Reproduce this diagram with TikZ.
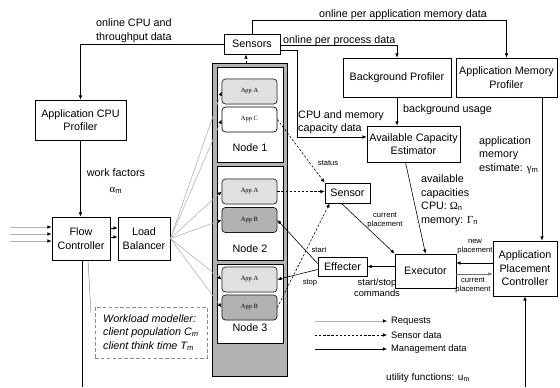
\documentclass[tikz,border=0pt]{standalone}
\usepackage{fontspec}
\setmainfont{Liberation Sans}
\newfontfamily\serfont{Liberation Serif}
\usetikzlibrary{arrows.meta,calc,patterns.meta}

\tikzdeclarepattern{
  name=finegrid, type=uncolored,
  bounding box={(0pt,0pt) and (2pt,2pt)},
  tile size={(2pt,2pt)},
  code={\draw[line width=0.25pt] (0pt,1pt) -- (2pt,1pt) (1pt,0pt) -- (1pt,2pt);}
}

\begin{document}
\begin{tikzpicture}[x=0.03cm, y=-0.03cm,
    font=\fontsize{9.2}{11.5}\selectfont,
    >={Latex[length=3.5pt,width=3pt]},
    box/.style={rectangle, draw=black, line width=0.7pt, fill=white, align=center, inner sep=1pt},
    wbox/.style={rectangle, draw=black!45, densely dashed, fill=white, align=left, font=\fontsize{9.2}{11.5}\selectfont\itshape},
    nodebox/.style={rectangle, draw=black, line width=0.8pt, fill=white, minimum width=1.98cm},
    app/.style={rectangle, rounded corners=3pt, draw=black, line width=0.6pt, minimum width=1.65cm, minimum height=0.75cm, font=\serfont\fontsize{5.5}{6.5}\selectfont},
    appA/.style={app, fill=black!8, postaction={pattern=finegrid, pattern color=black!22}},
    appB/.style={app, fill=black!25, postaction={pattern=finegrid, pattern color=black!42}},
    appC/.style={app, fill=white},
    lbl/.style={font=\fontsize{6.5}{7.5}\selectfont, align=center, inner sep=0pt},
    mgmt/.style={->, line width=0.5pt},
    sdata/.style={->, line width=0.5pt, dash pattern=on 2pt off 1.5pt},
    req/.style={-{Latex[length=3.5pt,width=3pt,color=black]}, draw=black!30, line width=0.5pt}
]
\useasboundingbox (0,0) rectangle (560,387);

% Servers
\node (column) [draw=black, line width=0.8pt, fill=black!30, minimum width=2.25cm, minimum height=9.39cm] at (249.5,219.5) {};
\node (node1) [nodebox, minimum height=2.85cm] at (250,114.5) {};
\node (node2) [nodebox, minimum height=2.82cm] at (250,213) {};
\node (node3) [nodebox, minimum height=2.37cm] at (250,303.5) {};
\node (n1lbl) at (250,148) {Node 1};
\node (n2lbl) at (250,249) {Node 2};
\node (n3lbl) at (250,328) {Node 3};

\node (n1a) [appA] at (249.5,91.5) {App A};
\node (n1c) [appC] at (249.5,119.5) {App C};
\node (n2a) [appA] at (249.5,191.5) {App A};
\node (n2b) [appB] at (249.5,220) {App B};
\node (n3a) [appA] at (249.5,279.5) {App A};
\node (n3b) [appB] at (249.5,307.5) {App B};

% Left side
\node (sensors) [box, minimum width=1.68cm, minimum height=0.6cm] at (252,44) {Sensors};
\node (cpuprof) [box, minimum width=2.73cm, minimum height=1.2cm] at (80.5,120) {Application CPU\\Profiler};
\node (flow) [box, minimum width=1.74cm, minimum height=1.29cm] at (81,238.5) {Flow\\Controller};
\node (lb) [box, minimum width=1.56cm, minimum height=1.29cm] at (144,238.5) {Load\\Balancer};
\node (workload) [wbox, minimum width=3.36cm, minimum height=1.53cm] at (151,332.5) {Workload modeller:\\client population C\textsubscript{m}\\client think time T\textsubscript{m}};

\node (cpulbl) [anchor=west, align=left, inner sep=0pt] at (96,30.5) {online CPU and\\throughput data};
\node (wflbl) [align=center, inner sep=0pt] at (116,181) {work factors\\[2pt]{\serfont α}\textsubscript{m}};

% Right side
\node (bgprof) [box, minimum width=3.24cm, minimum height=1.17cm] at (397,77.5) {Background Profiler};
\node (memprof) [box, minimum width=3.03cm, minimum height=1.17cm] at (506.5,77.5) {Application Memory\\Profiler};
\node (ace) [box, minimum width=2.79cm, minimum height=1.08cm] at (413.5,144) {Available Capacity\\Estimator};
\node (sensor) [box, minimum width=1.35cm, minimum height=0.6cm] at (347.5,193) {Sensor};
\node (effecter) [box, minimum width=1.47cm, minimum height=0.57cm] at (342.5,266.5) {Effecter};
\node (executor) [box, minimum width=1.83cm, minimum height=1.02cm] at (425.5,271) {Executor};
\node (apc) [box, minimum width=1.92cm, minimum height=1.65cm] at (525,268.5) {Application\\Placement\\Controller};

\node (memlbl) [inner sep=0pt] at (403,14.5) {online per application memory data};
\node (proclbl) [anchor=west, inner sep=0pt] at (283,40.5) {online per process data};
\node (caplbl) [anchor=west, align=left, inner sep=0pt] at (298,122) {CPU and memory\\capacity data};
\node (bglbl) [anchor=west, inner sep=0pt] at (403,110) {background usage};
\node (estlbl) [anchor=west, align=left, inner sep=0pt] at (479,155) {application\\memory\\estimate: {\serfont γ}\textsubscript{m}};
\node (availlbl) [anchor=west, align=left, inner sep=0pt] at (421,200) {available\\capacities\\CPU: {\serfont Ω}\textsubscript{n}\\memory: {\serfont Γ}\textsubscript{n}};

\node (statuslbl) [lbl] at (328,163) {status};
\node (curlbl) [lbl] at (385,220) {current\\placement};
\node (startlbl) [lbl] at (319,250) {start};
\node (stoplbl) [lbl] at (310,283) {stop};
\node (cmdlbl) [lbl, font=\fontsize{8}{9.5}\selectfont] at (377,288) {start/stop\\commands};
\node (newlbl) [lbl] at (475,247) {new\\placement};
\node (cur2lbl) [lbl] at (473,285) {current\\placement};

% Legend
\node (legreq) [anchor=west, font=\fontsize{8}{9.5}\selectfont] at (387,321) {Requests};
\node (legsen) [anchor=west, font=\fontsize{8}{9.5}\selectfont] at (387,335) {Sensor data};
\node (legman) [anchor=west, font=\fontsize{8}{9.5}\selectfont] at (387,349) {Management data};
\node (utility) [anchor=west, font=\fontsize{8.5}{10}\selectfont, inner sep=0pt] at (386,378) {utility functions: u\textsubscript{m}};

\coordinate (legreqs) at (315,321);
\coordinate (legsens) at (315,335);
\coordinate (legmans) at (315,349);
\coordinate (req1) at (10,227);
\coordinate (req2) at (10,234);
\coordinate (req3) at (10,241);
\coordinate (capbend) at (297,137);
\coordinate (memdrop) at (542,97);
\coordinate (colup) at (246,63);
\coordinate (callout) at (91,313);
\coordinate (flowbot) at (82,387);
\coordinate (apcbot) at (525,387);

% Arrows
\draw[mgmt] (sensors.west) -| (cpuprof.north);
\draw[mgmt] (cpuprof) -- (cpuprof |- flow.north);
\draw[req] (req1) -- (req1 -| flow.west);
\draw[req] (req2) -- (req2 -| flow.west);
\draw[req] (req3) -- (req3 -| flow.west);
\draw[mgmt] ($(flow.east)+(0,-10.5)$) -- ($(lb.west)+(0,-10.5)$);
\draw[mgmt] ($(flow.east)+(0,-1.5)$) -- ($(lb.west)+(0,-1.5)$);
\foreach \a in {n1a,n1c,n2a,n2b,n3a,n3b}
  \draw[req] (lb.east) -- (\a.west);
\draw[black!50, line width=0.4pt] ($(flow.south)+(7,0)$) -- (callout);
\draw[line width=0.5pt] (flow.south) ++(1,0) -- (flowbot);
\draw[mgmt] (apcbot) -- (apc.south);

\draw[mgmt] (sensors.north) -- ++(0,-13) -| (memprof.north);
\draw[mgmt] ($(sensors.east)+(0,1)$) -| (bgprof.north);
\draw[mgmt] ($(sensors.east)+(0,6)$) -| (capbend) -- (capbend -| ace.west);
\draw[mgmt] (bgprof.south) -- (bgprof.south |- ace.north);
\draw[mgmt] (memdrop) -- (memdrop |- apc.north);
\draw[mgmt] ($(ace.south)+(-8,0)$) -- (executor.north);
\draw[mgmt] ($(sensor.south)+(-6,0)$) -- (executor.north west);
\draw[mgmt] (executor.west |- effecter) -- (effecter.east);
\coordinate (np) at ($(apc.west)+(0,-5.5)$);
\coordinate (cp) at ($(executor.east)+(0,3)$);
\draw[mgmt] (np) -- (np -| executor.east);
\draw[mgmt, draw=black!55] (cp) -- (cp -| apc.west);
\draw[mgmt] ($(effecter.west)+(0,-3)$) -- (n2b.east);
\draw[mgmt] ($(effecter.west)+(0,3)$) -- (n3a.east);

\draw[sdata] (colup) -- (colup |- sensors.south);
\draw[sdata] (n1c.east) -- (sensor.north west);
\draw[sdata] (n2a.east) -- (n2a.east -| sensor.west);
\draw[sdata] (n3b.east) -- ($(sensor.south west)+(5,0)$);

\draw[req] (legreqs) -- (legreq.west);
\draw[sdata] (legsens) -- (legsen.west);
\draw[mgmt] (legmans) -- (legman.west);

\end{tikzpicture}
\end{document}
